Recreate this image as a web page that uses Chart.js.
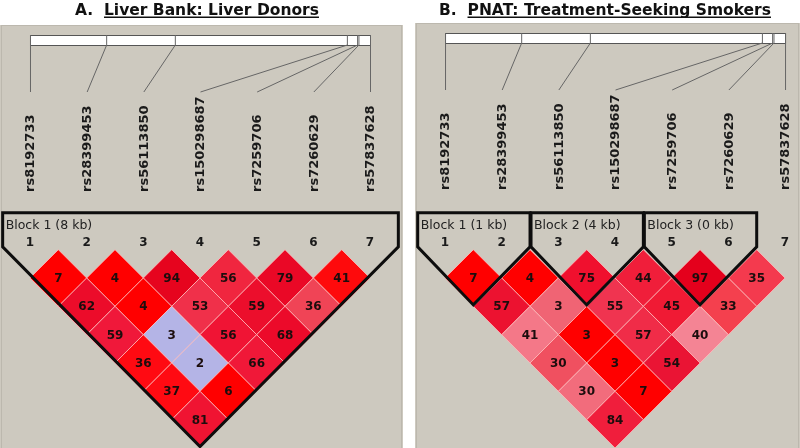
<!DOCTYPE html>
<html>
<head>
<meta charset="utf-8">
<script src="https://cdn.jsdelivr.net/npm/chart.js@4.4.0/dist/chart.umd.min.js"></script>
<style>
  html, body { margin: 0; padding: 0; background: #fff; }
  #wrap { width: 800px; height: 448px; }
</style>
</head>
<body>
<div id="wrap"><canvas id="ld" width="800" height="448"></canvas></div>
<script>
// SNPs, same set in both cohorts
const markers = ['rs8192733', 'rs28399453', 'rs56113850', 'rs150298687', 'rs7259706', 'rs7260629', 'rs57837628'];
// where each SNP sits along the region bar (0 = first, 1 = last)
const markerPos = [0, 0.224, 0.426, 0.932, 0.962, 0.966, 1];

// marker pairs, one row of the triangle after the other
const pairFrom = [1, 2, 3, 4, 5, 6, 1, 2, 3, 4, 5, 1, 2, 3, 4, 1, 2, 3, 1, 2, 1];
const pairTo   = [2, 3, 4, 5, 6, 7, 3, 4, 5, 6, 7, 4, 5, 6, 7, 5, 6, 7, 6, 7, 7];

// numbers printed in the cells
const ldA = [7, 4, 94, 56, 79, 41, 62, 4, 53, 59, 36, 59, 3, 56, 68, 36, 2, 66, 37, 6, 81];
const ldB = [7, 4, 75, 44, 97, 35, 57, 3, 55, 45, 33, 41, 3, 57, 40, 30, 3, 54, 30, 7, 84];

// cell shades as seen in the picture
const shadeA = ['#ff0000', '#ff0000', '#e6041e', '#f0263f', '#ea0826', '#fe0a0c',
                '#ec0c2a', '#ff0000', '#f0304a', '#ec0e2c', '#f04456',
                '#f0183a', '#b4b4e6', '#f01434', '#ec0a2a',
                '#ff0a12', '#b4b4e6', '#f01838',
                '#ff0a12', '#ff0000',
                '#f01432'];
const shadeB = ['#ff0000', '#ff0000', '#f0102e', '#f01e3a', '#e4001c', '#f43a4e',
                '#ec1230', '#f06474', '#f03450', '#f01a34', '#f4404e',
                '#f47888', '#ff0000', '#f02c48', '#f48494',
                '#f05060', '#ff0000', '#ea1434',
                '#f26c7c', '#ff0000',
                '#f01e3c'];

// haplotype blocks
const blockFromA = [1];
const blockToA = [7];
const blockNameA = ['Block 1 (8 kb)'];
const blockFromB = [1, 3, 5];
const blockToB = [2, 4, 6];
const blockNameB = ['Block 1 (1 kb)', 'Block 2 (4 kb)', 'Block 3 (0 kb)'];

const titleA = ['A.', 'Liver Bank: Liver Donors'];
const titleB = ['B.', 'PNAT: Treatment-Seeking Smokers'];

const cells = vals => vals.map((v, k) => ({ x: (pairFrom[k] + pairTo[k]) / 2, y: pairTo[k] - pairFrom[k], v: v }));

const panels = [
  { scale: 'xA', title: titleA, titleX: 197, from: blockFromA, to: blockToA, names: blockNameA,
    left: 0, right: 403, top: 25, barTop: 35, lineEnd: 92, labelBase: 192 },
  { scale: 'xB', title: titleB, titleX: 605, from: blockFromB, to: blockToB, names: blockNameB,
    left: 415, right: 800, top: 23, barTop: 33, lineEnd: 90, labelBase: 190 }
];

const haploview = {
  id: 'haploview',
  beforeDraw(chart) {
    const ctx = chart.ctx;
    const y = chart.scales.y;
    ctx.save();
    ctx.fillStyle = '#fff';
    ctx.fillRect(0, 0, chart.width, chart.height);
    panels.forEach(p => {
      const xs = chart.scales[p.scale];
      // panel
      ctx.fillStyle = '#cdc9bf';
      ctx.fillRect(p.left, p.top, p.right - p.left, chart.height - p.top);
      ctx.strokeStyle = '#bcb8ae';
      ctx.lineWidth = 1;
      ctx.strokeRect(p.left + 1.5, p.top + 0.5, p.right - p.left - 3, chart.height - p.top);

      // title, second part underlined
      ctx.font = 'bold 15.5px "DejaVu Sans"';
      ctx.fillStyle = '#111';
      ctx.textBaseline = 'alphabetic';
      ctx.textAlign = 'left';
      const pre = p.title[0] + '  ';
      const wPre = ctx.measureText(pre).width;
      const wMain = ctx.measureText(p.title[1]).width;
      const tx = p.titleX - (wPre + wMain) / 2;
      ctx.fillText(pre, tx, 15);
      ctx.fillText(p.title[1], tx + wPre, 15);
      ctx.fillRect(tx + wPre, 16.5, wMain, 1.5);

      // region bar with marker ticks
      const x0 = xs.getPixelForValue(1);
      const x1 = xs.getPixelForValue(markers.length);
      const barBottom = p.barTop + 10;
      ctx.fillStyle = '#fff';
      ctx.fillRect(x0, p.barTop, x1 - x0, 10);
      ctx.strokeStyle = '#555';
      ctx.lineWidth = 1;
      ctx.strokeRect(x0 + 0.5, p.barTop + 0.5, x1 - x0, 10);
      ctx.strokeStyle = '#666';
      markers.forEach((m, i) => {
        const bx = x0 + markerPos[i] * (x1 - x0);
        const cx = xs.getPixelForValue(i + 1);
        ctx.beginPath();
        ctx.moveTo(bx + 0.5, p.barTop);
        ctx.lineTo(bx + 0.5, barBottom);
        ctx.moveTo(bx + 0.5, barBottom);
        ctx.lineTo(cx + 0.5, p.lineEnd);
        ctx.stroke();

        // rotated SNP name
        ctx.save();
        ctx.translate(cx + 1, p.labelBase);
        ctx.rotate(-Math.PI / 2);
        ctx.font = 'bold 13px "DejaVu Sans"';
        ctx.fillStyle = '#1a1a1a';
        ctx.textAlign = 'left';
        ctx.textBaseline = 'middle';
        ctx.fillText(m, 0, 0);
        ctx.restore();

        // marker number
        ctx.font = 'bold 12px "DejaVu Sans"';
        ctx.fillStyle = '#1a1a1a';
        ctx.textAlign = 'center';
        ctx.textBaseline = 'middle';
        ctx.fillText(String(i + 1), cx, y.getPixelForValue(-0.25));
      });

      // block names
      ctx.font = '12.5px "DejaVu Sans"';
      ctx.fillStyle = '#222';
      ctx.textAlign = 'left';
      ctx.textBaseline = 'middle';
      p.names.forEach((n, b) => {
        ctx.fillText(n, xs.getPixelForValue(p.from[b] - 0.5) + 4, y.getPixelForValue(-0.86));
      });
    });
    ctx.restore();
  },
  afterDatasetsDraw(chart) {
    const ctx = chart.ctx;
    const y = chart.scales.y;
    ctx.save();
    // block outlines
    panels.forEach(p => {
      const xs = chart.scales[p.scale];
      ctx.strokeStyle = '#0d0d0d';
      ctx.lineWidth = 3;
      ctx.lineJoin = 'miter';
      p.from.forEach((s, b) => {
        const e = p.to[b];
        const xl = xs.getPixelForValue(s - 0.5) + 1;
        const xr = xs.getPixelForValue(e + 0.5);
        const xm = xs.getPixelForValue((s + e) / 2);
        const yTop = y.getPixelForValue(-1.3);
        const yKnee = y.getPixelForValue(-0.1);
        const yBot = y.getPixelForValue(e - s + 0.95);
        ctx.beginPath();
        ctx.moveTo(xl, yTop);
        ctx.lineTo(xr, yTop);
        ctx.lineTo(xr, yKnee);
        ctx.lineTo(xm, yBot);
        ctx.lineTo(xl, yKnee);
        ctx.closePath();
        ctx.stroke();
      });
    });
    // cell numbers
    ctx.font = 'bold 12px "DejaVu Sans"';
    ctx.fillStyle = '#1c0d0d';
    ctx.textAlign = 'center';
    ctx.textBaseline = 'middle';
    chart.data.datasets.forEach((ds, k) => {
      chart.getDatasetMeta(k).data.forEach((pt, i) => {
        ctx.fillText(String(ds.data[i].v), pt.x, pt.y + 1);
      });
    });
    ctx.restore();
  }
};

const halfCell = c => {
  const s = c.chart.scales.xA;
  return Math.abs(s.getPixelForValue(1) - s.getPixelForValue(0)) / 2;
};

new Chart(document.getElementById('ld').getContext('2d'), {
  type: 'scatter',
  data: {
    datasets: [
      { label: 'Liver Bank', data: cells(ldA), xAxisID: 'xA', yAxisID: 'y', backgroundColor: shadeA },
      { label: 'PNAT', data: cells(ldB), xAxisID: 'xB', yAxisID: 'y', backgroundColor: shadeB }
    ]
  },
  options: {
    responsive: false,
    animation: false,
    events: [],
    layout: { padding: 0 },
    elements: {
      point: { pointStyle: 'rectRot', radius: halfCell, borderColor: 'rgba(255,190,190,0.75)', borderWidth: 1 }
    },
    plugins: { legend: { display: false }, tooltip: { enabled: false } },
    scales: {
      xA: { type: 'linear', display: false, min: 0.4706, max: 14.588 },
      xB: { type: 'linear', display: false, min: -6.853, max: 7.264 },
      y: { type: 'linear', display: false, reverse: true, min: -8.812, max: 7.0 }
    }
  },
  plugins: [haploview]
});
</script>
</body>
</html>
